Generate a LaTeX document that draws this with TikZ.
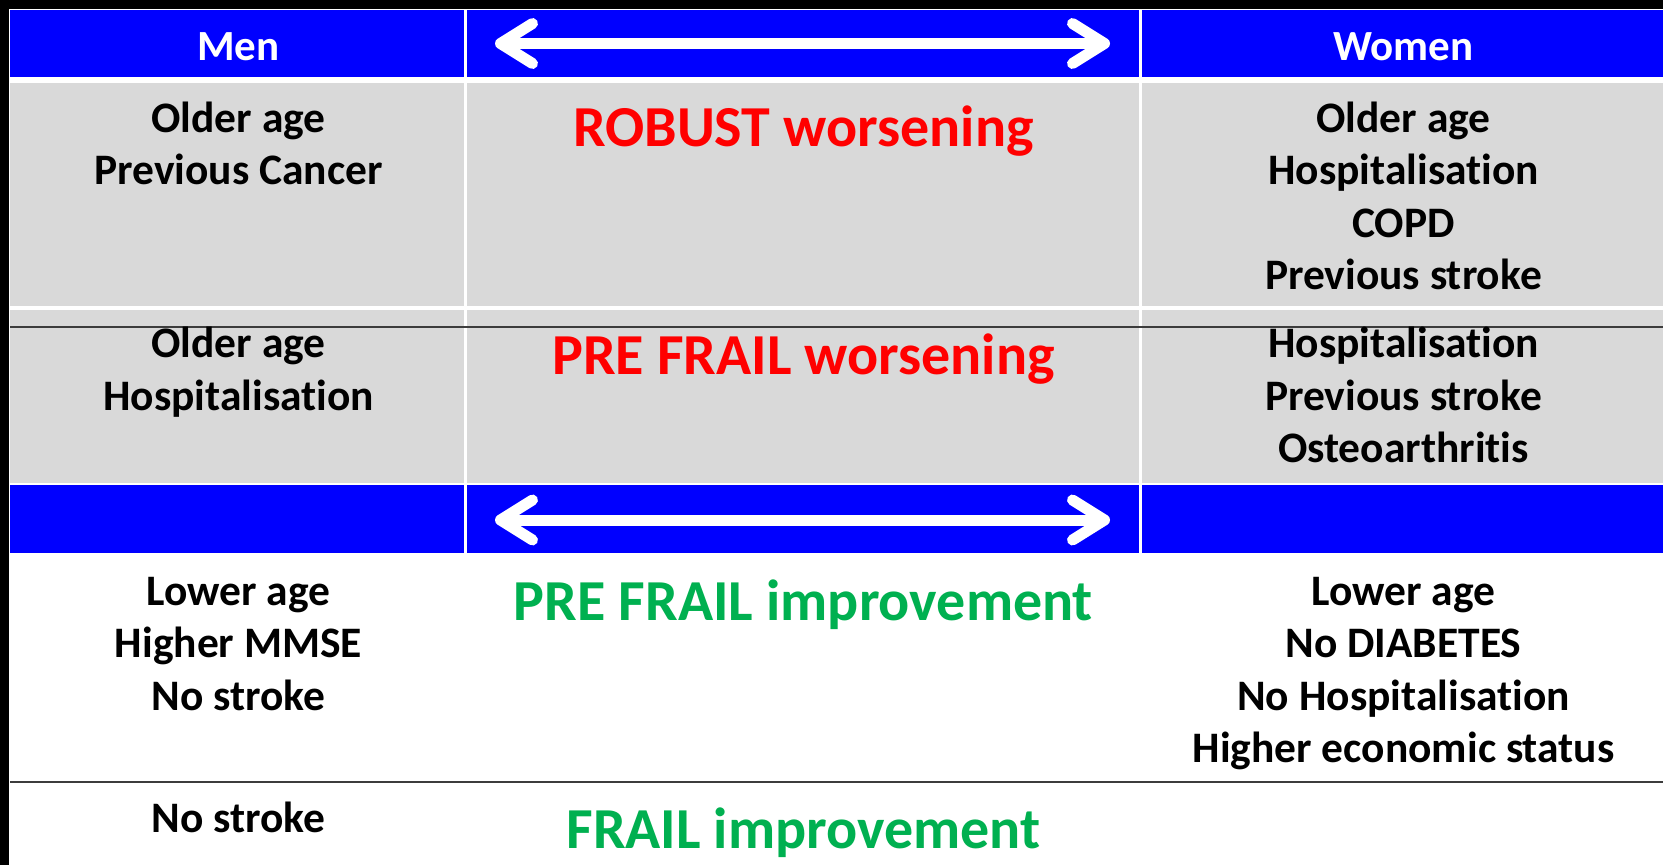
\documentclass[tikz,border=0pt]{standalone}
\usepackage{fontspec}
\setmainfont{Carlito}[Ligatures=NoCommon]
\usetikzlibrary{arrows.meta}
\definecolor{bandblue}{RGB}{0,0,255}
\definecolor{cellgray}{RGB}{217,217,217}
\definecolor{worsered}{RGB}{255,0,0}
\definecolor{bettergreen}{RGB}{0,176,80}
\definecolor{darkrule}{RGB}{60,60,60}

% cell texts are anchored at the baseline of their last line
\tikzset{
  cell/.style={font=\fontsize{43.5}{52.5}\selectfont\bfseries, align=center,
    text=black, inner sep=0pt, anchor=base},
  headtext/.style={font=\fontsize{43}{48}\selectfont\bfseries, text=white,
    inner sep=0pt, anchor=base},
  trend/.style={font=\fontsize{58}{62}\selectfont\bfseries, inner sep=0pt,
    anchor=base},
  twoway/.style={draw=white, line width=11pt, line cap=round,
    {Straight Barb[length=32pt, width=40pt, round]}-{Straight Barb[length=32pt, width=40pt, round]}},
}

\begin{document}
\begin{tikzpicture}[x=1pt, y=-1pt]
\useasboundingbox (0,0) rectangle (1663,865);
\fill[white] (0,0) rectangle (1663,865);

% frame on the top and left
\fill[black] (0,0) rectangle (1663,8.5);
\fill[black] (0,0) rectangle (9,865);

% blue header band and blue band between the two halves
\fill[bandblue] (10,10) rectangle (1663,77);
\fill[bandblue] (10,485) rectangle (1663,553);

% grey body of the worsening rows
\fill[cellgray] (10,83) rectangle (1663,483);
\draw[white, line width=3.5pt] (10,308) -- (1663,308);

% column dividers
\foreach \cx in {465.5,1140} {
  \draw[white, line width=3pt] (\cx,10) -- (\cx,553);
}

% dark horizontal rules
\draw[darkrule, line width=2.2pt] (10,327) -- (1663,327);
\draw[darkrule, line width=2.5pt] (10,782) -- (1663,782);

% double arrows in the blue bands
\coordinate (a1l) at (495,43.5);
\coordinate (a1r) at (1110,43.5);
\coordinate (a2l) at (495,520);
\coordinate (a2r) at (1110,520);
\draw[twoway] (a1l) -- (a1r);
\draw[twoway] (a2l) -- (a2r);

% header labels
\node[headtext] (hmen) at (238.5,60) {Men};
\node[headtext] (hwomen) at (1403.5,60) {Women};

% robust worsening
\node[cell] (m1) at (238.5,184.5) {Older age\\Previous Cancer};
\node[trend, text=worsered] (t1) at (803.5,146) {ROBUST worsening};
\node[cell] (w1) at (1403.5,289.5) {Older age\\Hospitalisation\\COPD\\Previous stroke};

% pre-frail worsening
\node[cell] (m2) at (238.5,410) {Older age\\Hospitalisation};
\node[trend, text=worsered] (t2) at (803.5,374) {PRE FRAIL worsening};
\node[cell] (w2) at (1403.5,462.5) {Hospitalisation\\Previous stroke\\Osteoarthritis};

% pre-frail improvement
\node[cell] (m3) at (238.5,710) {Lower age\\Higher MMSE\\No stroke};
\node[trend, text=bettergreen] (t3) at (803.5,620) {PRE FRAIL improvement};
\node[cell] (w3) at (1403.5,762.5) {Lower age\\No DIABETES\\No Hospitalisation\\Higher economic status};

% frail improvement
\node[cell] (m4) at (238.5,832) {No stroke};
\node[trend, text=bettergreen] (t4) at (803.5,848) {FRAIL improvement};
\end{tikzpicture}
\end{document}
